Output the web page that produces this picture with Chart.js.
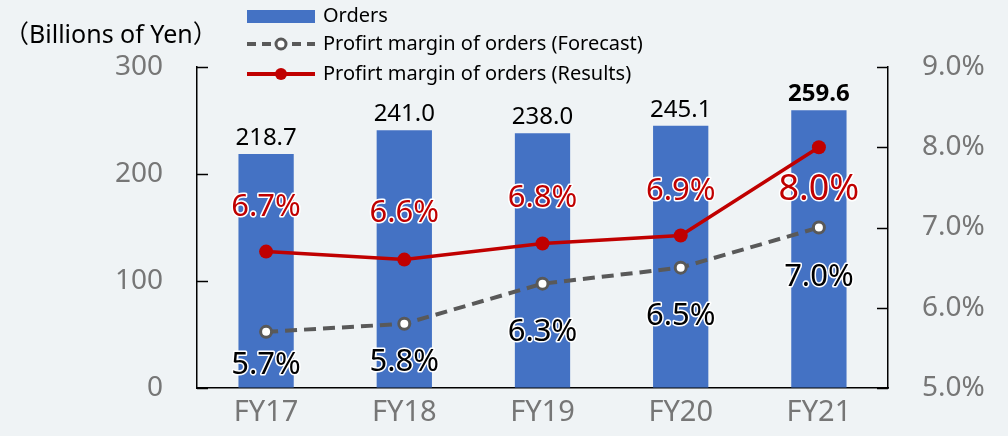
<!DOCTYPE html>
<html>
<head>
<meta charset="utf-8">
<script src="https://cdn.jsdelivr.net/npm/chart.js@4"></script>
<style>
  html, body { margin: 0; padding: 0; background: #eff3f5; }
  #wrap { width: 1008px; height: 436px; }
</style>
</head>
<body>
<div id="wrap"><canvas id="chartOrders" width="1008" height="436"></canvas></div>
<script>
// dados
const anos = ['FY17', 'FY18', 'FY19', 'FY20', 'FY21'];
const pedidos = [218.7, 241.0, 238.0, 245.1, 259.6];
const margemPrevisao = [5.7, 5.8, 6.3, 6.5, 7.0];
const margemResultado = [6.7, 6.6, 6.8, 6.9, 8.0];
const ticksEsquerda = [0, 100, 200, 300];
const ticksDireita = [5, 6, 7, 8, 9];

const AZUL = '#4472C4';
const CINZA = '#595959';
const VERMELHO = '#C00000';
const TICK_COR = '#767676';
const FONTE = '"Noto Sans", "Noto Sans CJK JP", sans-serif';

// deslocamento vertical dos rotulos de % (centro do texto em relacao ao ponto)
const offsetResultado = [-44, -46, -45, -44, 42];
const offsetPrevisao = [33, 38, 48, 49, 50];

function textoComBorda(ctx, texto, x, y, cor) {
    ctx.lineJoin = 'round';
    ctx.lineWidth = 3;
    ctx.strokeStyle = '#ffffff';
    ctx.strokeText(texto, x, y);
    ctx.fillStyle = cor;
    ctx.fillText(texto, x, y);
}

const pluginExtras = {
    id: 'extras',
    afterDatasetsDraw(chart) {
        const ctx = chart.ctx;
        ctx.save();

        // rotulos das barras
        const metaBarras = chart.getDatasetMeta(0);
        ctx.textAlign = 'center';
        ctx.textBaseline = 'alphabetic';
        metaBarras.data.forEach((bar, i) => {
            const ultimo = i == pedidos.length - 1;
            ctx.font = (ultimo ? 'bold ' : '') + '24px ' + FONTE;
            ctx.fillStyle = '#000';
            ctx.fillText(pedidos[i].toFixed(1), bar.x, bar.y - 9);
        });

        // rotulos da previsao
        ctx.textBaseline = 'middle';
        chart.getDatasetMeta(1).data.forEach((pt, i) => {
            ctx.font = '31px ' + FONTE;
            textoComBorda(ctx, margemPrevisao[i].toFixed(1) + '%', pt.x, pt.y + offsetPrevisao[i], '#000');
        });

        // rotulos dos resultados
        chart.getDatasetMeta(2).data.forEach((pt, i) => {
            const ultimo = i == margemResultado.length - 1;
            ctx.font = (ultimo ? '36px ' : '31px ') + FONTE;
            textoComBorda(ctx, margemResultado[i].toFixed(1) + '%', pt.x, pt.y + offsetResultado[i], VERMELHO);
        });
        ctx.restore();
    },
    afterDraw(chart) {
        const ctx = chart.ctx;
        const area = chart.chartArea;
        ctx.save();

        // ticks para dentro
        ctx.strokeStyle = '#000';
        ctx.lineWidth = 1.5;
        const yEsq = chart.scales.y;
        const yDir = chart.scales.y1;
        ticksEsquerda.forEach((v) => {
            const py = Math.round(yEsq.getPixelForValue(v)) + 0.5;
            ctx.beginPath();
            ctx.moveTo(area.left, py);
            ctx.lineTo(area.left + 11, py);
            ctx.stroke();
        });
        ticksDireita.forEach((v) => {
            const py = Math.round(yDir.getPixelForValue(v)) + 0.5;
            ctx.beginPath();
            ctx.moveTo(area.right, py);
            ctx.lineTo(area.right - 11, py);
            ctx.stroke();
        });

        // unidade
        ctx.font = '25px ' + FONTE;
        ctx.fillStyle = '#000';
        ctx.textAlign = 'left';
        ctx.textBaseline = 'middle';
        ctx.fillText('（Billions of Yen）', 4, 36);

        // legenda
        const x0 = 247, x1 = 315, xm = 281, xt = 323;
        const ds = chart.data.datasets;
        ctx.font = '20px ' + FONTE;

        ctx.fillStyle = AZUL;
        ctx.fillRect(x0, 10, x1 - x0, 13);
        ctx.fillStyle = '#000';
        ctx.fillText(ds[0].label, xt, 16);

        ctx.strokeStyle = CINZA;
        ctx.lineWidth = 4;
        ctx.setLineDash([9, 6]);
        ctx.beginPath();
        ctx.moveTo(x0, 44);
        ctx.lineTo(x1, 44);
        ctx.stroke();
        ctx.setLineDash([]);
        ctx.beginPath();
        ctx.arc(xm, 44, 5, 0, Math.PI * 2);
        ctx.fillStyle = '#fff';
        ctx.fill();
        ctx.lineWidth = 3;
        ctx.stroke();
        ctx.fillStyle = '#000';
        ctx.fillText(ds[1].label, xt, 44);

        ctx.strokeStyle = VERMELHO;
        ctx.lineWidth = 4;
        ctx.beginPath();
        ctx.moveTo(x0, 74);
        ctx.lineTo(x1, 74);
        ctx.stroke();
        ctx.beginPath();
        ctx.arc(xm, 74, 6, 0, Math.PI * 2);
        ctx.fillStyle = VERMELHO;
        ctx.fill();
        ctx.fillStyle = '#000';
        ctx.fillText(ds[2].label, xt, 74);

        ctx.restore();
    }
};

const ctxPedidos = document.getElementById('chartOrders');
var chartPedidos = new Chart(ctxPedidos, {
    type: 'bar',
    data: {
        labels: anos,
        datasets: [{
            type: 'bar',
            label: 'Orders',
            data: pedidos,
            backgroundColor: AZUL,
            barPercentage: 0.4,
            categoryPercentage: 1,
            yAxisID: 'y',
            order: 3
        }, {
            type: 'line',
            label: 'Profirt margin of orders (Forecast)',
            data: margemPrevisao,
            borderColor: CINZA,
            borderWidth: 4,
            borderDash: [12, 7],
            pointRadius: 5.5,
            pointBorderWidth: 3,
            pointBackgroundColor: '#ffffff',
            pointBorderColor: CINZA,
            tension: 0,
            yAxisID: 'y1',
            order: 2
        }, {
            type: 'line',
            label: 'Profirt margin of orders (Results)',
            data: margemResultado,
            borderColor: VERMELHO,
            borderWidth: 3.5,
            pointRadius: 7,
            pointBorderWidth: 0,
            pointBackgroundColor: VERMELHO,
            pointBorderColor: VERMELHO,
            tension: 0,
            yAxisID: 'y1',
            order: 1
        }]
    },
    options: {
        responsive: false,
        devicePixelRatio: 1,
        animation: false,
        layout: {
            padding: { top: 67, left: 0, right: 0, bottom: 0 }
        },
        plugins: {
            legend: { display: false },
            tooltip: { enabled: false },
            title: { display: false }
        },
        scales: {
            x: {
                grid: { drawOnChartArea: false, drawTicks: false },
                border: { color: '#000', width: 1.5 },
                ticks: {
                    color: TICK_COR,
                    padding: 7,
                    font: { family: FONTE, size: 29 }
                },
                afterFit: function (scale) { scale.height = 48; }
            },
            y: {
                position: 'left',
                min: 0,
                max: 300,
                afterBuildTicks: function (scale) {
                    scale.ticks = ticksEsquerda.map((v) => ({ value: v }));
                },
                // tick invisivel so pra afastar o rotulo (padding empurra a area do grafico)
                grid: { drawOnChartArea: false, drawTicks: true, tickLength: 34, tickColor: 'rgba(0,0,0,0)' },
                border: { color: '#000', width: 1.5 },
                ticks: {
                    color: TICK_COR,
                    padding: 0,
                    font: { family: FONTE, size: 28 }
                },
                afterFit: function (scale) { scale.width = 197; }
            },
            y1: {
                position: 'right',
                min: 5,
                max: 9,
                afterBuildTicks: function (scale) {
                    scale.ticks = ticksDireita.map((v) => ({ value: v }));
                },
                grid: { drawOnChartArea: false, drawTicks: true, tickLength: 34, tickColor: 'rgba(0,0,0,0)' },
                border: { color: '#000', width: 1.5 },
                ticks: {
                    color: TICK_COR,
                    padding: 0,
                    font: { family: FONTE, size: 28 },
                    callback: function (v) { return Number(v).toFixed(1) + '%'; }
                },
                afterFit: function (scale) { scale.width = 120; }
            }
        }
    },
    plugins: [pluginExtras]
});
</script>
</body>
</html>
